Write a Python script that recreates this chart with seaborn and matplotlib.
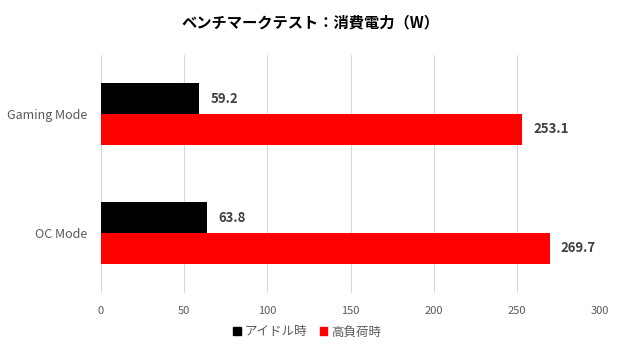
import matplotlib
matplotlib.use("Agg")
import matplotlib.pyplot as plt
import seaborn as sns
import pandas as pd

categories = ["Gaming Mode", "OC Mode"]
series_names = ["アイドル時", "高負荷時"]
idle = [59.2, 63.8]
load = [253.1, 269.7]
colors = ["#000000", "#ff0000"]
xticks = [0, 50, 100, 150, 200, 250, 300]

df = pd.DataFrame({
    "mode": categories * 2,
    "series": [series_names[0]] * 2 + [series_names[1]] * 2,
    "value": idle + load,
})

sns.set_theme(style="white")
plt.rcParams['font.family'] = ['Noto Sans CJK JP', 'DejaVu Sans']

fig = plt.figure(figsize=(6.2, 3.5), dpi=100)
ax = fig.add_axes([101/620, 1 - 292.5/350, 499/620, 238/350])

sns.barplot(data=df, y="mode", x="value", hue="series", order=categories,
            hue_order=series_names, palette=colors, orient="h", width=0.52,
            saturation=1, linewidth=0, edgecolor="none", ax=ax, legend=True)

for cont in ax.containers:
    ax.bar_label(cont, fmt="%.1f", padding=8, fontsize=9.5, fontweight="bold",
                 color="#404040")

ax.set_xlim(0, 300)
ax.set_xticks(xticks)
ax.set_xticklabels([str(t) for t in xticks])
ax.xaxis.grid(True, color="#d9d9d9", linewidth=0.8)
ax.set_axisbelow(True)
for s in ax.spines.values():
    s.set_visible(False)
ax.tick_params(axis="x", colors="#595959", labelsize=8, length=0, pad=10)
ax.tick_params(axis="y", colors="#595959", labelsize=9, length=0, pad=10)
ax.set_xlabel("")
ax.set_ylabel("")

leg = ax.get_legend()
if leg is not None:
    leg.remove()
handles = [plt.Rectangle((0, 0), 1, 1, color=c) for c in colors]
fig.legend(handles, series_names, loc="center", bbox_to_anchor=(307/620, 1 - 332/350),
           ncol=2, frameon=False, fontsize=9, handlelength=0.6, handleheight=0.6,
           handletextpad=0.3, columnspacing=1.0, labelcolor="#595959")

fig.text(0.5, 1 - 22/350, "ベンチマークテスト：消費電力（W）", ha="center", va="center",
         fontsize=11, fontweight="bold", color="#000000")

fig.savefig("out.png", dpi=100, facecolor="white")
